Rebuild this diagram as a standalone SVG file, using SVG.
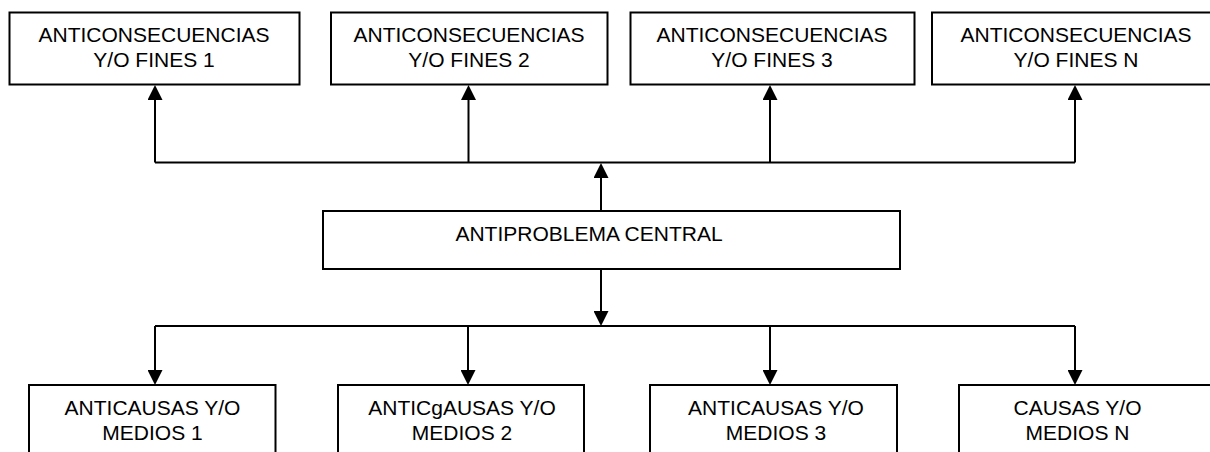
<svg xmlns="http://www.w3.org/2000/svg" width="1210" height="452" viewBox="0 0 1210 452">
<style>
.box{fill:#ffffff;stroke:#000000;stroke-width:2}
.lbl{font-family:"Liberation Sans",Arial,sans-serif;font-size:21px;fill:#000000;text-anchor:middle}
.conn{fill:none;stroke:#000000;stroke-width:2}
</style>
<defs>
<marker id="arr" viewBox="0 0 15 15" markerWidth="15" markerHeight="15" refX="11" refY="7.5" orient="auto" markerUnits="userSpaceOnUse">
<path d="M0,0 L15,7.5 L0,15 z" fill="#000000"/>
</marker>
</defs>
<rect width="1210" height="452" fill="#ffffff"/>
<g id="fin1"><rect class="box" x="9.5" y="12.5" width="290" height="72"/><text class="lbl" x="154" y="42">ANTICONSECUENCIAS</text><text class="lbl" x="154" y="66.5">Y/O FINES 1</text></g>
<g id="fin2"><rect class="box" x="331" y="12.5" width="276.5" height="72"/><text class="lbl" x="469" y="42">ANTICONSECUENCIAS</text><text class="lbl" x="469" y="66.5">Y/O FINES 2</text></g>
<g id="fin3"><rect class="box" x="630.5" y="12.5" width="284" height="72"/><text class="lbl" x="772" y="42">ANTICONSECUENCIAS</text><text class="lbl" x="772" y="66.5">Y/O FINES 3</text></g>
<g id="finN"><rect class="box" x="932" y="12.5" width="290" height="72"/><text class="lbl" x="1076" y="42">ANTICONSECUENCIAS</text><text class="lbl" x="1076" y="66.5">Y/O FINES N</text></g>
<g id="central"><rect class="box" x="323" y="211" width="577" height="58"/><text class="lbl" x="589" y="241">ANTIPROBLEMA CENTRAL</text></g>
<g id="medio1"><rect class="box" x="29" y="385" width="246.5" height="90"/><text class="lbl" x="152.5" y="415">ANTICAUSAS Y/O</text><text class="lbl" x="152.5" y="440">MEDIOS 1</text></g>
<g id="medio2"><rect class="box" x="338" y="385" width="246" height="90"/><text class="lbl" x="462" y="415">ANTICgAUSAS Y/O</text><text class="lbl" x="462" y="440">MEDIOS 2</text></g>
<g id="medio3"><rect class="box" x="650" y="385" width="247" height="90"/><text class="lbl" x="776" y="415">ANTICAUSAS Y/O</text><text class="lbl" x="776" y="440">MEDIOS 3</text></g>
<g id="medioN"><rect class="box" x="959" y="385" width="260" height="90"/><text class="lbl" x="1077.5" y="415">CAUSAS Y/O</text><text class="lbl" x="1077.5" y="440">MEDIOS N</text></g>
<g id="connectors">
<polyline class="conn" points="155,162.5 1075,162.5"/>
<line class="conn" x1="155" y1="162.5" x2="155" y2="89" marker-end="url(#arr)"/>
<line class="conn" x1="468.5" y1="162.5" x2="468.5" y2="89" marker-end="url(#arr)"/>
<line class="conn" x1="770" y1="162.5" x2="770" y2="89" marker-end="url(#arr)"/>
<line class="conn" x1="1075" y1="162.5" x2="1075" y2="89" marker-end="url(#arr)"/>
<line class="conn" x1="601" y1="211" x2="601" y2="167" marker-end="url(#arr)"/>
<line class="conn" x1="601" y1="269" x2="601" y2="322" marker-end="url(#arr)"/>
<polyline class="conn" points="155,326 1075,326"/>
<line class="conn" x1="155" y1="326" x2="155" y2="381" marker-end="url(#arr)"/>
<line class="conn" x1="468" y1="326" x2="468" y2="381" marker-end="url(#arr)"/>
<line class="conn" x1="770" y1="326" x2="770" y2="381" marker-end="url(#arr)"/>
<line class="conn" x1="1075" y1="326" x2="1075" y2="381" marker-end="url(#arr)"/>
</g>
</svg>
